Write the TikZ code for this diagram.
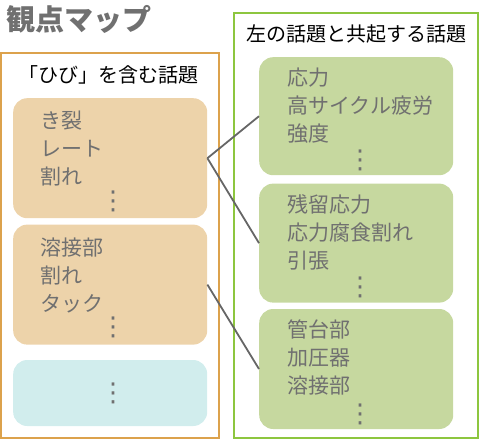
\documentclass[tikz,border=0pt]{standalone}
\usepackage{fontspec}
\setmainfont{Noto Sans CJK JP}
\newfontfamily\symfont{DejaVu Sans}
\usepackage{tikz}
\usetikzlibrary{positioning}
\definecolor{frameor}{HTML}{DCA24C}
\definecolor{framegr}{HTML}{8DC63F}
\definecolor{boxtan}{HTML}{EDD3AA}
\definecolor{boxcyan}{HTML}{D1EDED}
\definecolor{boxgreen}{HTML}{C6D89F}
\definecolor{txtgray}{HTML}{707070}
\definecolor{linkgray}{HTML}{666666}
\tikzset{
  vmap/.style={x=1pt, y=-1pt, every node/.style={inner sep=0pt, text=txtgray, font=\fontsize{21}{28}\selectfont}},
  frame/.style={draw, line width=2pt},
  topic/.style={rounded corners=14pt, minimum width=194pt, minimum height=120pt, anchor=north west},
  words/.style={anchor=north west, align=left},
  dots/.style={font=\symfont\fontsize{26}{26}\selectfont},
  ftitle/.style={text=black, font=\fontsize{20}{24}\selectfont},
  link/.style={draw=linkgray, line width=1.8pt}
}

\begin{document}
\begin{tikzpicture}[vmap]
\useasboundingbox (0,0) rectangle (480,440);
\node[anchor=west, font=\bfseries\fontsize{29}{32}\selectfont] (title) at (6,19) {観点マップ};
\draw[frame, frameor] (1,53) rectangle (219,438);
\draw[frame, framegr] (234,13) rectangle (478,438);
\node[ftitle] (lhead) at (109,75) {「ひび」を含む話題};
\node[ftitle] (rhead) at (356,34) {左の話題と共起する話題};
% left column
\node[topic, fill=boxtan] (crack) at (13,98) {};
\node[topic, fill=boxtan, below=6pt of crack] (weld) {};
\node[topic, fill=boxcyan, minimum height=66pt, below=15pt of weld] (other) {};
% right column
\node[topic, fill=boxgreen, minimum height=118pt] (stress) at (259,57) {};
\node[topic, fill=boxgreen, minimum height=119pt, below=8pt of stress] (residual) {};
\node[topic, fill=boxgreen, below=6pt of residual] (pipe) {};
\node[words] (crackw) at ([shift={(27,13)}]crack.north west) {き裂\\レート\\割れ};
\node[words] (weldw) at ([shift={(27,13)}]weld.north west) {溶接部\\割れ\\タック};
\node[words] (stressw) at ([shift={(28,11)}]stress.north west) {応力\\高サイクル疲労\\強度};
\node[words] (residualw) at ([shift={(28,11)}]residual.north west) {残留応力\\応力腐食割れ\\引張};
\node[words] (pipew) at ([shift={(28,11)}]pipe.north west) {管台部\\加圧器\\溶接部};
\node[dots] (crackd) at ([shift={(3,-17)}]crack.south) {⋮};
\node[dots] (weldd) at ([shift={(3,-17)}]weld.south) {⋮};
\node[dots] (otherd) at ([shift={(3,0)}]other.center) {⋮};
\node[dots] (stressd) at ([shift={(4,-15)}]stress.south) {⋮};
\node[dots] (residuald) at ([shift={(4,-15)}]residual.south) {⋮};
\node[dots] (piped) at ([shift={(4,-15)}]pipe.south) {⋮};
\draw[link] (crack.east) -- (stress.west);
\draw[link] (crack.east) -- (residual.west);
\draw[link] (weld.east) -- (pipe.west);
\end{tikzpicture}
\end{document}
